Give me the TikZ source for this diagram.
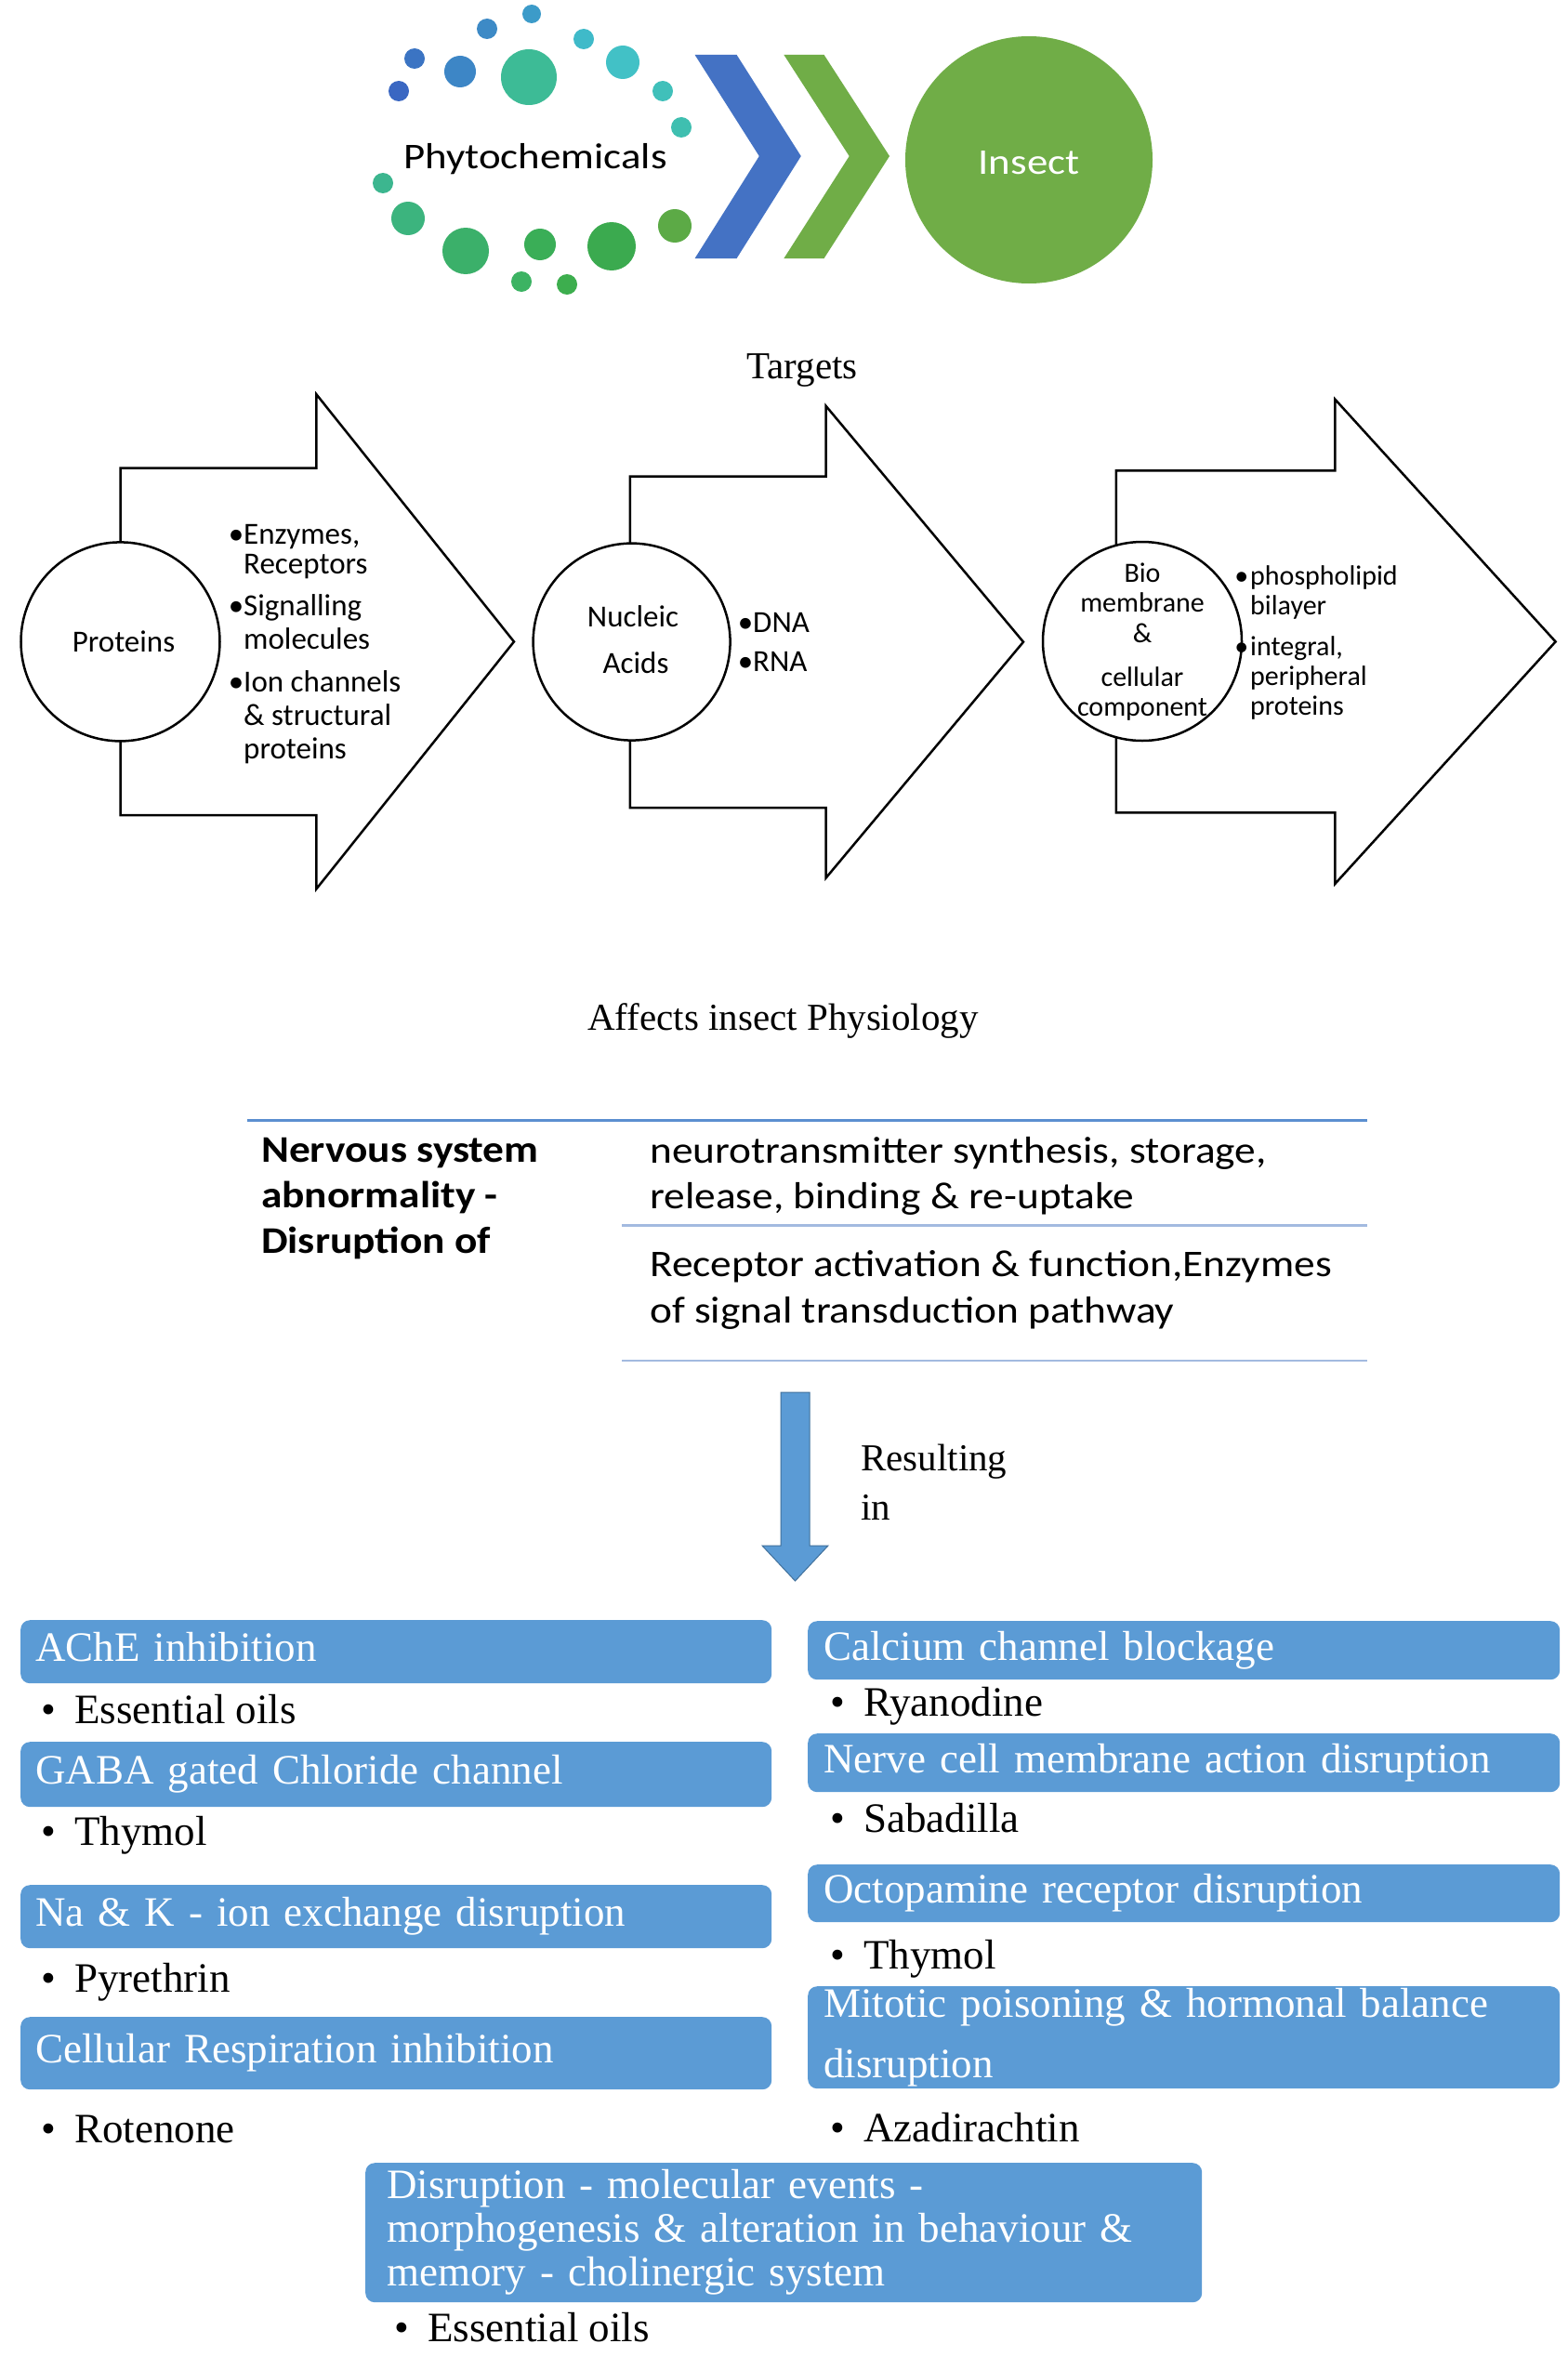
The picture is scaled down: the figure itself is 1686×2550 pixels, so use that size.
\documentclass[tikz,border=0pt]{standalone}
\usepackage{fontspec}
\setmainfont{Liberation Serif}
\newfontfamily\calA{Carlito}
\newfontfamily\calB[FakeStretch=1.15]{Carlito}
\newfontfamily\calT[FakeStretch=1.12]{Carlito}
\definecolor{bxblue}{HTML}{5B9BD5}
\definecolor{bxedge}{HTML}{41719C}
\definecolor{chevblue}{HTML}{4472C4}
\definecolor{insgreen}{HTML}{70AD47}
\definecolor{tabtop}{HTML}{5B8FD0}
\definecolor{tabline}{HTML}{A3BAE0}
\begin{document}
\begin{tikzpicture}[x=1pt,y=-1pt,
  arrowshape/.style={draw=black, fill=white, line width=2.5pt, line join=miter},
  tgtcircle/.style={circle, draw=black, fill=white, line width=2.5pt, inner sep=0pt},
  circtext/.style={anchor=base, inner sep=0pt, font=\calA\fontsize{33}{36}\selectfont},
  smalltext/.style={anchor=base, inner sep=0pt, font=\calA\fontsize{30}{32}\selectfont},
  itemA/.style={anchor=base west, inner sep=0pt, align=left, font=\calA\fontsize{33}{36}\selectfont},
  itemC/.style={anchor=base west, inner sep=0pt, align=left, font=\calA\fontsize{30}{32}\selectfont},
  serifcap/.style={anchor=base, inner sep=0pt, font=\fontsize{41}{53}\selectfont},
  tabtext/.style={anchor=base west, inner sep=0pt, align=left, font=\calT\fontsize{40.5}{49}\selectfont},
  bluebox/.style={rectangle, rounded corners=10pt, fill=bxblue, text=white, anchor=north west,
     inner ysep=0pt, align=left, font=\fontsize{45}{65}\selectfont},
  oneline/.style={text height=31pt, text depth=10pt},
  bul/.style={anchor=base west, inner sep=0pt, font=\fontsize{45}{50}\selectfont}
]
\useasboundingbox[fill=white] (0,0) rectangle (1686,2550);

% ---------- top: phytochemicals dots ----------
\fill[color={rgb,255:red,60;green,155;blue,201}] (572,15) circle[radius=10];
\fill[color={rgb,255:red,61;green,138;blue,198}] (524,31) circle[radius=11];
\fill[color={rgb,255:red,63;green,186;blue,201}] (628,42) circle[radius=11];
\fill[color={rgb,255:red,59;green,116;blue,195}] (446,63) circle[radius=11];
\fill[color={rgb,255:red,61;green,134;blue,198}] (495,77) circle[radius=17];
\fill[color={rgb,255:red,61;green,187;blue,150}] (569,83) circle[radius=30];
\fill[color={rgb,255:red,66;green,193;blue,198}] (670,67) circle[radius=18];
\fill[color={rgb,255:red,58;green,103;blue,194}] (429,98) circle[radius=11];
\fill[color={rgb,255:red,64;green,192;blue,186}] (713,98) circle[radius=11];
\fill[color={rgb,255:red,63;green,191;blue,176}] (733,137) circle[radius=11];
\fill[color={rgb,255:red,60;green,182;blue,143}] (412,197) circle[radius=11];
\fill[color={rgb,255:red,60;green,180;blue,126}] (439,235) circle[radius=18];
\fill[color={rgb,255:red,59;green,176;blue,106}] (501,270) circle[radius=25];
\fill[color={rgb,255:red,58;green,174;blue,87}] (581,263) circle[radius=17];
\fill[color={rgb,255:red,59;green,170;blue,79}] (658,265) circle[radius=26];
\fill[color={rgb,255:red,92;green,170;blue,70}] (726,243) circle[radius=18];
\fill[color={rgb,255:red,60;green,179;blue,99}] (561,303) circle[radius=11];
\fill[color={rgb,255:red,61;green,174;blue,78}] (610,306) circle[radius=11];

\node[anchor=base, inner sep=0pt, font=\calB\fontsize{39}{45}\selectfont] (phyto) at (576,182) {Phytochemicals};

% chevrons
\fill[chevblue] (747.6,59) -- (792.6,59) -- (861.8,168) -- (792.6,278) -- (747.6,278) -- (816.8,168) -- cycle;
\fill[insgreen] (843.4,59) -- (886.6,59) -- (957,168) -- (886.6,278) -- (843.4,278) -- (913.7,168) -- cycle;

\node[circle, fill=insgreen, minimum size=266pt, inner sep=0pt] (insect) at (1107,172) {};
\node[anchor=base, inner sep=0pt, text=white, font=\calB\fontsize{39}{45}\selectfont] (insectlbl) at (1107,188) {Insect};

\node[serifcap] (targets) at (863,407) {Targets};

% ---------- target arrows ----------
\draw[arrowshape] (129.5,503.6) -- (340.4,503.6) -- (340.4,424.3) -- (553,690.4) -- (340.4,956.4) -- (340.4,877.1) -- (129.5,877.1) -- cycle;
\draw[arrowshape] (677.9,512.5) -- (888.6,512.5) -- (888.6,436.8) -- (1101,690.7) -- (888.6,944.6) -- (888.6,869) -- (677.9,869) -- cycle;
\draw[arrowshape] (1200.9,506.4) -- (1436.3,506.4) -- (1436.3,429.6) -- (1673.6,690.4) -- (1436.3,951) -- (1436.3,874.3) -- (1200.9,874.3) -- cycle;

\node[tgtcircle, minimum size=214pt] (prot) at (129.5,690.4) {};
\node[tgtcircle, minimum size=212pt] (nucl) at (679.6,690.6) {};
\node[tgtcircle, minimum size=214pt] (biom) at (1229,690) {};

\node[circtext] (protlbl) at (133,701) {Proteins};
\node[circtext] (nucl1) at (681,674) {Nucleic};
\node[circtext] (nucl2) at (684,724) {Acids};
\node[smalltext] (bio1) at (1229,626) {Bio};
\node[smalltext] (bio2) at (1229,658) {membrane};
\node[smalltext] (bio3) at (1229,691) {\&};
\node[smalltext] (bio4) at (1229,738) {cellular};
\node[smalltext] (bio5) at (1229,770) {component};

% multi-line nodes: base anchor = last line's baseline
\node[itemA] (pA1) at (262,617) {\llap{•}Enzymes,\\[-4pt]Receptors};
\node[itemA] (pA2) at (262,698) {\llap{•}Signalling\\molecules};
\node[itemA] (pA3) at (262,816) {\llap{•}Ion channels\\\& structural\\proteins};
\node[itemA] (nA1) at (810,680) {\llap{•}DNA};
\node[itemA] (nA2) at (810,722) {\llap{•}RNA};
\node[itemC] (bA1) at (1345,661) {\llap{•\hspace{2pt}}phospholipid\\bilayer};
\node[itemC] (bA2) at (1345,769) {\llap{•\hspace{2pt}}integral,\\peripheral\\proteins};

\node[serifcap] (affects) at (842.5,1108) {Affects insect Physiology};

% ---------- table ----------
\draw[tabtop, line width=3pt] (266,1205.5) -- (1471,1205.5);
\draw[tabline, line width=2.5pt] (669,1318.6) -- (1471,1318.6);
\draw[tabline, line width=2.5pt] (669,1464) -- (1471,1464);
\node[tabtext, font=\calT\bfseries\fontsize{40.5}{49}\selectfont] (nerv) at (281,1348) {Nervous system\\abnormality -\\Disruption of};
\node[tabtext] (neuro) at (699,1300.5) {neurotransmitter synthesis, storage,\\release, binding \& re-uptake};
\node[tabtext, font=\calT\fontsize{40.5}{50}\selectfont] (recep) at (699,1423.5) {Receptor activation \& function,Enzymes\\of signal transduction pathway};

% ---------- down arrow ----------
\draw[fill=bxblue, draw=bxedge, line width=1pt, line join=miter] (840,1498) -- (871,1498) -- (871,1663) -- (891,1663) -- (855.5,1701) -- (820,1663) -- (840,1663) -- cycle;
\node[anchor=base west, inner sep=0pt, align=left, font=\fontsize{41}{53}\selectfont] (result) at (926,1635) {Resulting\\in};

% ---------- blue boxes ----------
\node[bluebox, oneline, inner xsep=16pt, minimum width=808pt, minimum height=68pt, text width=776pt] (L1) at (22,1743) {AChE inhibition};
\node[bluebox, oneline, inner xsep=16pt, minimum width=808pt, minimum height=70pt, text width=776pt] (L2) at (22,1874) {GABA gated Chloride channel};
\node[bluebox, oneline, inner xsep=16pt, minimum width=808pt, minimum height=68pt, text width=776pt] (L3) at (22,2028) {Na \& K - ion exchange disruption};
\node[bluebox, oneline, inner xsep=16pt, minimum width=808pt, minimum height=78pt, text width=776pt] (L4) at (22,2170) {Cellular Respiration inhibition};

\node[bluebox, oneline, inner xsep=17pt, minimum width=809pt, minimum height=63pt, text width=775pt] (R1) at (869,1744) {Calcium channel blockage};
\node[bluebox, oneline, inner xsep=17pt, minimum width=809pt, minimum height=63pt, text width=775pt] (R2) at (869,1865) {Nerve cell membrane action disruption};
\node[bluebox, oneline, inner xsep=17pt, minimum width=809pt, minimum height=62pt, text width=775pt] (R3) at (869,2006) {Octopamine receptor disruption};
\node[bluebox, inner xsep=17pt, minimum width=809pt, minimum height=110pt, text width=775pt] (R4) at (869,2137) {Mitotic poisoning \& hormonal balance\\disruption};

\node[bluebox, inner xsep=23pt, minimum width=900pt, minimum height=150pt, text width=854pt, font=\fontsize{45}{47}\selectfont] (B1) at (393,2327) {Disruption - molecular events -\\morphogenesis \& alteration in behaviour \&\\memory - cholinergic system};

% ---------- bullets ----------
\node[bul] (lb1) at (80,1854) {\llap{•\hspace{20pt}}Essential oils};
\node[bul] (lb2) at (80,1985) {\llap{•\hspace{20pt}}Thymol};
\node[bul] (lb3) at (80,2143) {\llap{•\hspace{20pt}}Pyrethrin};
\node[bul] (lb4) at (80,2305) {\llap{•\hspace{20pt}}Rotenone};
\node[bul] (rb1) at (929,1846) {\llap{•\hspace{20pt}}Ryanodine};
\node[bul] (rb2) at (929,1971) {\llap{•\hspace{20pt}}Sabadilla};
\node[bul] (rb3) at (929,2118) {\llap{•\hspace{20pt}}Thymol};
\node[bul] (rb4) at (929,2304) {\llap{•\hspace{20pt}}Azadirachtin};
\node[bul] (bb1) at (460,2519) {\llap{•\hspace{20pt}}Essential oils};
\end{tikzpicture}
\end{document}
